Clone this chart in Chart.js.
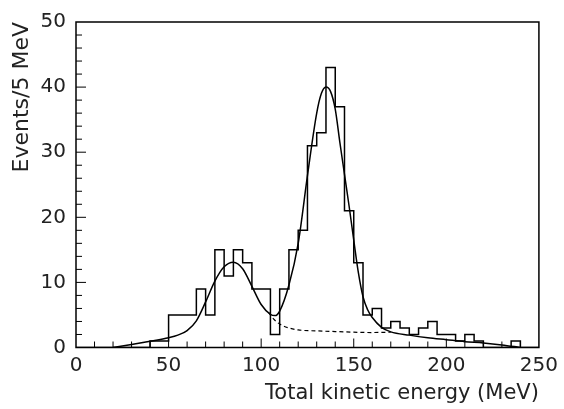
<!DOCTYPE html>
<html>
<head>
<meta charset="utf-8">
<script src="https://cdn.jsdelivr.net/npm/chart.js@4.4.0/dist/chart.umd.min.js"></script>
<style>
    html, body { margin: 0; padding: 0; background: #fff; }
</style>
</head>
<body>
<canvas id="myChart" width="564" height="409"></canvas>
<script>
// histogram: events per 5 MeV bin, first bin starts at 0 MeV
const binWidth = 5;
const counts = [
    0, 0, 0, 0, 0, 0, 0, 0, 1, 1,
    5, 5, 5, 9, 5, 15, 11, 15, 13, 9,
    9, 2, 9, 15, 18, 31, 33, 43, 37, 21,
    13, 5, 6, 3, 4, 3, 2, 3, 4, 2,
    2, 1, 2, 1, 0, 0, 0, 1, 0, 0
];

// full fit (solid line)
const fitX = [20, 30, 40, 50, 55, 60, 65, 70, 75, 80, 85, 90, 95, 100, 105, 107.5, 110, 115, 120, 125, 130, 132.5, 135, 137.5, 140, 142.5, 145, 147.5, 150, 152.5, 155, 157.5, 160, 165, 170, 180, 190, 200, 210, 220, 230, 240];
const fitY = [0, 0.45, 0.95, 1.5, 1.9, 2.6, 4.1, 7.0, 10.2, 12.4, 13.1, 12.1, 9.4, 6.6, 5.1, 4.9, 5.6, 9.6, 16.0, 26.4, 36.0, 39.0, 40.0, 39.3, 36.6, 31.5, 26.6, 21.7, 16.5, 11.5, 7.8, 5.8, 4.6, 3.1, 2.4, 1.9, 1.5, 1.2, 0.9, 0.7, 0.4, 0];

// background part of the fit (dashed line)
const bgX = [104, 107, 110, 115, 120, 130, 140, 150, 160, 170];
const bgY = [5.4, 4.3, 3.6, 3.0, 2.7, 2.55, 2.45, 2.35, 2.3, 2.35];

const xTicks = [0, 50, 100, 150, 200, 250];
const yTicks = [0, 10, 20, 30, 40, 50];

const fontFamily = "'DejaVu Sans', 'Liberation Sans', sans-serif";

// histogram as a stepped line (value i spans [i*5, i*5+5])
let histPoints = [{ x: 0, y: 0 }];
counts.forEach((c, i) => histPoints.push({ x: (i + 1) * binWidth, y: c }));

let fitPoints = fitX.map((v, i) => ({ x: v, y: fitY[i] }));
let bgPoints = bgX.map((v, i) => ({ x: v, y: bgY[i] }));

// frame around the plot and inward tick marks
const frameTicks = {
    id: 'frameTicks',
    afterDatasetsDraw(chart) {
        const { ctx, chartArea: a, scales: { x, y } } = chart;
        ctx.save();
        ctx.strokeStyle = '#000';
        ctx.lineWidth = 1.5;
        ctx.strokeRect(a.left, a.top, a.right - a.left, a.bottom - a.top);
        ctx.lineWidth = 1;
        ctx.beginPath();
        for (let v = 10; v < 250; v += 10) {
            let px = x.getPixelForValue(v);
            let len = v % 50 === 0 ? 9 : 6;
            ctx.moveTo(px, a.bottom);
            ctx.lineTo(px, a.bottom - len);
        }
        for (let v = 2; v < 50; v += 2) {
            let py = y.getPixelForValue(v);
            let len = v % 10 === 0 ? 10 : 6;
            ctx.moveTo(a.left, py);
            ctx.lineTo(a.left + len, py);
        }
        ctx.stroke();
        ctx.restore();
    }
};

const ctx = document.getElementById('myChart').getContext('2d');
const myChart = new Chart(ctx, {
    type: 'line',
    data: {
        datasets: [
            {
                label: 'Data',
                data: histPoints,
                stepped: 'after',
                borderColor: '#000',
                borderWidth: 1.5,
                pointRadius: 0,
                fill: false
            },
            {
                label: 'Fit',
                data: fitPoints,
                borderColor: '#000',
                borderWidth: 1.5,
                pointRadius: 0,
                cubicInterpolationMode: 'monotone',
                fill: false
            },
            {
                label: 'Background',
                data: bgPoints,
                borderColor: '#000',
                borderWidth: 1.2,
                borderDash: [4, 3],
                pointRadius: 0,
                cubicInterpolationMode: 'monotone',
                fill: false
            }
        ]
    },
    options: {
        responsive: false,
        animation: false,
        layout: { padding: { left: 0, right: 23, top: 17, bottom: 0 } },
        plugins: {
            legend: { display: false },
            tooltip: { enabled: false }
        },
        scales: {
            x: {
                type: 'linear',
                min: 0,
                max: 250,
                afterBuildTicks: s => { s.ticks = xTicks.map(v => ({ value: v })); },
                afterFit: s => { s.height = 61.5; },
                grid: { display: false, drawTicks: false },
                border: { display: false },
                ticks: {
                    padding: 6,
                    color: '#222',
                    maxRotation: 0,
                    font: { family: fontFamily, size: 20 }
                },
                title: {
                    display: true,
                    text: 'Total kinetic energy (MeV)',
                    align: 'end',
                    color: '#222',
                    padding: 3,
                    font: { family: fontFamily, size: 21 }
                }
            },
            y: {
                min: 0,
                max: 50,
                afterBuildTicks: s => { s.ticks = yTicks.map(v => ({ value: v })); },
                afterFit: s => { s.width = 76; },
                grid: { display: false, drawTicks: false },
                border: { display: false },
                ticks: {
                    padding: 10,
                    color: '#222',
                    font: { family: fontFamily, size: 20 }
                },
                title: {
                    display: true,
                    text: 'Events/5 MeV',
                    align: 'end',
                    color: '#222',
                    padding: 9,
                    font: { family: fontFamily, size: 22 }
                }
            }
        }
    },
    plugins: [frameTicks]
});
</script>
</body>
</html>
